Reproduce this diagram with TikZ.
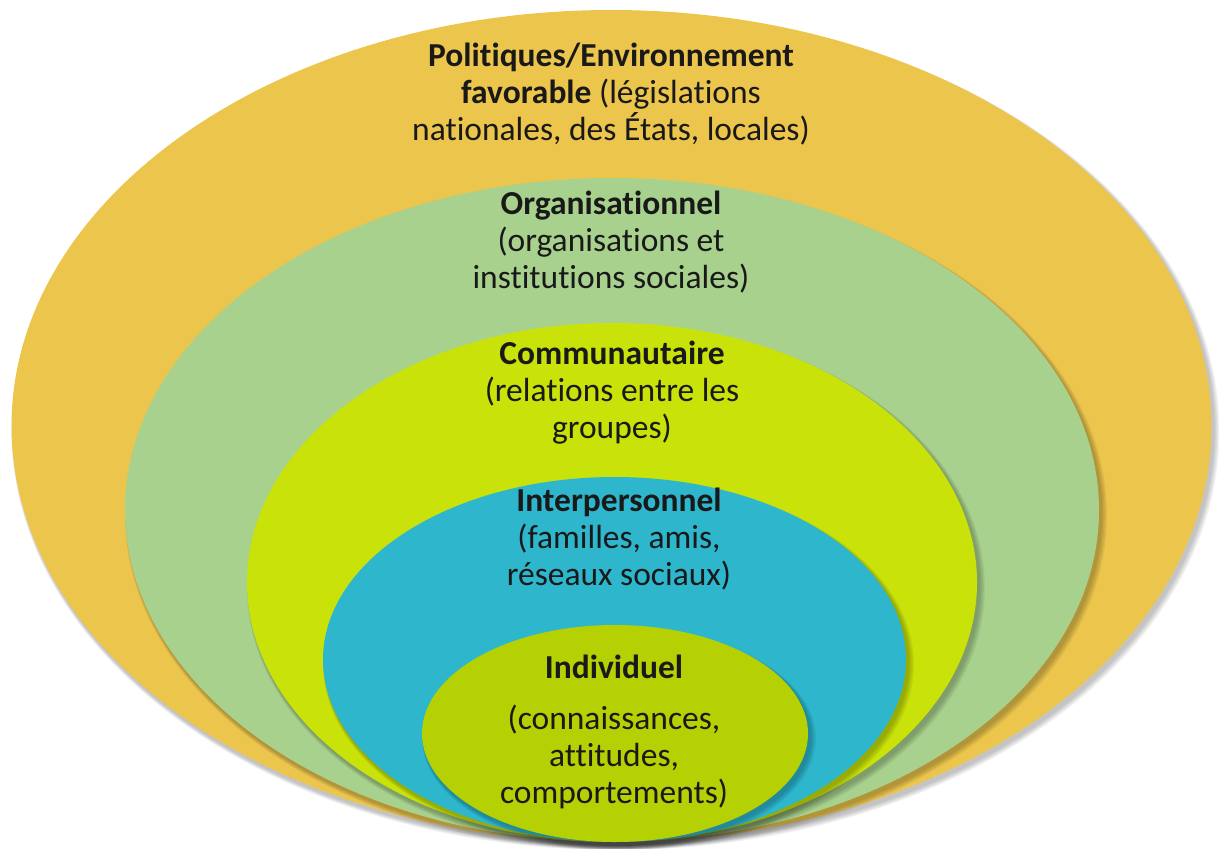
\documentclass[tikz,border=0pt]{standalone}
\usepackage{fontspec}
\setmainfont{Carlito}[Ligatures={NoCommon}]
\definecolor{cOuter}{RGB}{236,197,77}
\definecolor{cOrg}{RGB}{168,209,142}
\definecolor{cCom}{RGB}{201,226,10}
\definecolor{cInter}{RGB}{46,182,205}
\definecolor{cInd}{RGB}{182,209,3}
\definecolor{cText}{RGB}{25,25,25}
\begin{document}
\begin{tikzpicture}[x=1pt,y=-1pt,
  lbl/.style={align=center,anchor=base,inner sep=0pt,text=cText,font=\fontsize{33.5}{37}\selectfont}]
\useasboundingbox (0,0) rectangle (1219,849);
\newcommand{\softshadow}[3]{%
  \foreach \k in {1,...,5}{%
    \fill[black,opacity=0.05] ([shift={(2+0.4*\k,3+0.4*\k)}]#1) ellipse [x radius=#2pt+0.8pt*\k, y radius=#3pt+0.6pt*\k];
  }}
% outer
\softshadow{611.5,426}{600}{416}
\fill[cOuter] (611.5,426) ellipse [x radius=600pt, y radius=416pt];
% organisationnel
\softshadow{612,510}{487}{332}
\fill[cOrg] (612,510) ellipse [x radius=487pt, y radius=332pt];
% communautaire
\softshadow{612,582.5}{365}{259.5}
\fill[cCom] (612,582.5) ellipse [x radius=365pt, y radius=259.5pt];
% interpersonnel
\softshadow{614.5,659.5}{291.5}{182.5}
\fill[cInter] (614.5,659.5) ellipse [x radius=291.5pt, y radius=182.5pt];
% individuel
\softshadow{615,733.5}{193}{108.5}
\fill[cInd] (615,733.5) ellipse [x radius=193pt, y radius=108.5pt];
% texts (base anchor = baseline of last line)
\node[lbl] (tPol) at (611,140) {\textbf{Politiques/Environnement}\\\textbf{favorable} (législations\\nationales, des États, locales)};
\node[lbl] (tOrg) at (611,288) {\textbf{Organisationnel}\\(organisations et\\institutions sociales)};
\node[lbl] (tCom) at (612,438) {\textbf{Communautaire}\\(relations entre les\\groupes)};
\node[lbl] (tInt) at (619,585) {\textbf{Interpersonnel}\\(familles, amis,\\réseaux sociaux)};
\node[lbl] (tIndA) at (614,678) {\textbf{Individuel}};
\node[lbl] (tIndB) at (614,803) {(connaissances,\\attitudes,\\comportements)};
\end{tikzpicture}
\end{document}
